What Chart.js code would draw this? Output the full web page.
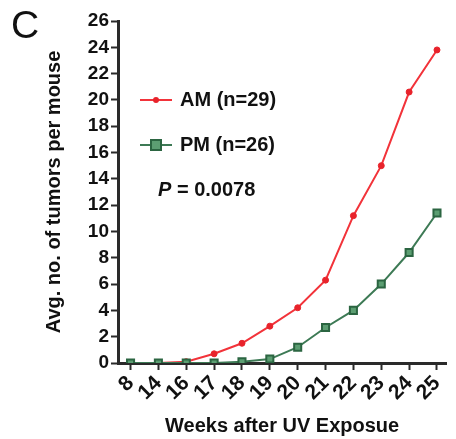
<!DOCTYPE html>
<html>
<head>
<meta charset="utf-8">
<script src="https://cdn.jsdelivr.net/npm/chart.js@4/dist/chart.umd.min.js"></script>
<style>
    html, body { margin: 0; padding: 0; background: #fff; }
    #wrap { position: relative; width: 456px; height: 439px; }
    #panel { position: absolute; left: 11px; top: 3px; font: 39px "Liberation Sans", Arial, sans-serif; color: #111; }
</style>
</head>
<body>
<div id="wrap">
    <canvas id="tumorChart" width="456" height="439"></canvas>
    <div id="panel">C</div>
</div>
<script>
var weeks = ["8", "14", "16", "17", "18", "19", "20", "21", "22", "23", "24", "25"];
var amTumors = [0, 0, 0.1, 0.7, 1.5, 2.8, 4.2, 6.3, 11.2, 15.0, 20.6, 23.8];
var pmTumors = [0, 0, 0, 0, 0.1, 0.3, 1.2, 2.7, 4.0, 6.0, 8.4, 11.4];
var pValue = "0.0078";

var axisColor = "#2a2a2a";
var fontFamily = "'Liberation Sans', Arial, sans-serif";

function toPoints(values) {
    return values.map(function(v, i) { return { x: i, y: v }; });
}

// legend + P value drawn inside the plot, upper left
var innerLegend = {
    id: "innerLegend",
    afterDraw: function(chart) {
        var ctx = chart.ctx;
        var area = chart.chartArea;
        var x0 = area.left + 22;
        var y = area.top + 79;
        ctx.save();
        ctx.textBaseline = "middle";
        chart.data.datasets.forEach(function(ds) {
            ctx.strokeStyle = ds.borderColor;
            ctx.lineWidth = 2;
            ctx.beginPath();
            ctx.moveTo(x0, y);
            ctx.lineTo(x0 + 32, y);
            ctx.stroke();
            ctx.fillStyle = ds.pointBackgroundColor;
            ctx.strokeStyle = ds.pointBorderColor;
            ctx.lineWidth = ds.pointBorderWidth;
            var r = ds.pointRadius;
            if (ds.pointStyle === "rect") {
                ctx.fillRect(x0 + 16 - r, y - r, 2 * r, 2 * r);
                ctx.strokeRect(x0 + 16 - r, y - r, 2 * r, 2 * r);
            } else {
                ctx.beginPath();
                ctx.arc(x0 + 16, y, r, 0, Math.PI * 2);
                ctx.fill();
            }
            ctx.fillStyle = "#111";
            ctx.font = "bold 20px " + fontFamily;
            ctx.textAlign = "left";
            ctx.fillText(ds.label, x0 + 40, y);
            y += 45;
        });
        ctx.font = "italic bold 20px " + fontFamily;
        ctx.fillText("P", x0 + 18, y);
        var w = ctx.measureText("P").width;
        ctx.font = "bold 20px " + fontFamily;
        ctx.fillText(" = " + pValue, x0 + 18 + w, y);
        ctx.restore();
    }
};

new Chart(document.getElementById("tumorChart"), {
    type: "line",
    data: {
        datasets: [
            {
                label: "AM (n=29)",
                data: toPoints(amTumors),
                borderColor: "#f2333a",
                borderWidth: 2,
                pointStyle: "circle",
                pointRadius: 3,
                pointBackgroundColor: "#e8232b",
                pointBorderColor: "#e8232b",
                pointBorderWidth: 1,
                tension: 0,
                order: 1
            },
            {
                label: "PM (n=26)",
                data: toPoints(pmTumors),
                borderColor: "#3d7a55",
                borderWidth: 2,
                pointStyle: "rect",
                pointRadius: 5,
                pointBackgroundColor: "#5c9e72",
                pointBorderColor: "#2b6541",
                pointBorderWidth: 2,
                tension: 0,
                order: 0
            }
        ]
    },
    options: {
        responsive: false,
        animation: false,
        layout: { padding: { top: 21, right: 1, left: 0, bottom: 0 } },
        plugins: { legend: { display: false }, tooltip: { enabled: false } },
        scales: {
            x: {
                type: "linear",
                min: -0.45,
                max: 11.33,
                afterBuildTicks: function(scale) {
                    scale.ticks = weeks.map(function(w, i) { return { value: i }; });
                },
                afterFit: function(scale) { scale.height = 76; },
                border: { display: true, color: axisColor, width: 3 },
                grid: { drawOnChartArea: false, drawTicks: true, tickLength: 7, tickWidth: 2, color: axisColor },
                ticks: {
                    autoSkip: false,
                    minRotation: 45,
                    maxRotation: 45,
                    padding: 1,
                    color: "#111",
                    font: { family: fontFamily, size: 21, weight: "bold" },
                    callback: function(v) { return weeks[v]; }
                },
                title: {
                    display: true,
                    text: "Weeks after UV Exposue",
                    color: "#111",
                    padding: { top: 0, bottom: 1 },
                    font: { family: fontFamily, size: 20, weight: "bold" }
                }
            },
            y: {
                min: 0,
                max: 26,
                afterFit: function(scale) { scale.width = 118; },
                border: { display: true, color: axisColor, width: 3 },
                grid: { drawOnChartArea: false, drawTicks: true, tickLength: 7, tickWidth: 2, color: axisColor },
                ticks: {
                    stepSize: 2,
                    padding: 2,
                    color: "#111",
                    font: { family: fontFamily, size: 19, weight: "bold" }
                },
                title: {
                    display: true,
                    text: "Avg. no. of tumors per mouse",
                    color: "#111",
                    padding: { top: 42, bottom: 0 },
                    font: { family: fontFamily, size: 20, weight: "bold" }
                }
            }
        }
    },
    plugins: [innerLegend]
});
</script>
</body>
</html>
